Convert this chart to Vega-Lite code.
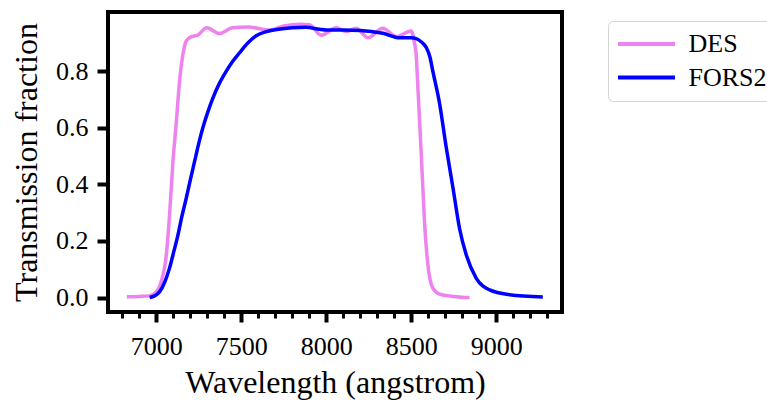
{
  "$schema": "https://vega.github.io/schema/vega-lite/v6.json",
  "width": 454,
  "height": 300,
  "autosize": {"type": "none"},
  "padding": {"left": 108, "top": 12, "right": 205, "bottom": 88},
  "background": "white",
  "config": {
    "font": "Liberation Serif",
    "view": {"stroke": "black", "strokeWidth": 4},
    "axis": {
      "grid": false,
      "domain": false,
      "tickColor": "black",
      "labelColor": "black",
      "titleColor": "black",
      "labelFont": "Liberation Serif",
      "titleFont": "Liberation Serif",
      "labelFontSize": 26,
      "titleFontSize": 32,
      "titleFontWeight": "normal"
    }
  },
  "data": {
    "values": [
      {"filter": "DES", "wavelength": 6827, "transmission": 0.003},
      {"filter": "DES", "wavelength": 6900, "transmission": 0.004},
      {"filter": "DES", "wavelength": 6960, "transmission": 0.006},
      {"filter": "DES", "wavelength": 7000, "transmission": 0.02},
      {"filter": "DES", "wavelength": 7029, "transmission": 0.057},
      {"filter": "DES", "wavelength": 7059, "transmission": 0.15},
      {"filter": "DES", "wavelength": 7078, "transmission": 0.29},
      {"filter": "DES", "wavelength": 7098, "transmission": 0.48},
      {"filter": "DES", "wavelength": 7118, "transmission": 0.62},
      {"filter": "DES", "wavelength": 7137, "transmission": 0.765},
      {"filter": "DES", "wavelength": 7157, "transmission": 0.86},
      {"filter": "DES", "wavelength": 7176, "transmission": 0.906},
      {"filter": "DES", "wavelength": 7200, "transmission": 0.92},
      {"filter": "DES", "wavelength": 7245, "transmission": 0.928},
      {"filter": "DES", "wavelength": 7297, "transmission": 0.953},
      {"filter": "DES", "wavelength": 7372, "transmission": 0.933},
      {"filter": "DES", "wavelength": 7446, "transmission": 0.953},
      {"filter": "DES", "wavelength": 7540, "transmission": 0.956},
      {"filter": "DES", "wavelength": 7666, "transmission": 0.945},
      {"filter": "DES", "wavelength": 7750, "transmission": 0.96},
      {"filter": "DES", "wavelength": 7850, "transmission": 0.966},
      {"filter": "DES", "wavelength": 7902, "transmission": 0.964},
      {"filter": "DES", "wavelength": 7971, "transmission": 0.927},
      {"filter": "DES", "wavelength": 8059, "transmission": 0.953},
      {"filter": "DES", "wavelength": 8118, "transmission": 0.94},
      {"filter": "DES", "wavelength": 8176, "transmission": 0.952},
      {"filter": "DES", "wavelength": 8245, "transmission": 0.918},
      {"filter": "DES", "wavelength": 8333, "transmission": 0.952},
      {"filter": "DES", "wavelength": 8412, "transmission": 0.922},
      {"filter": "DES", "wavelength": 8500, "transmission": 0.942},
      {"filter": "DES", "wavelength": 8519, "transmission": 0.9},
      {"filter": "DES", "wavelength": 8529, "transmission": 0.86},
      {"filter": "DES", "wavelength": 8539, "transmission": 0.745},
      {"filter": "DES", "wavelength": 8559, "transmission": 0.507},
      {"filter": "DES", "wavelength": 8578, "transmission": 0.27},
      {"filter": "DES", "wavelength": 8598, "transmission": 0.116},
      {"filter": "DES", "wavelength": 8627, "transmission": 0.033},
      {"filter": "DES", "wavelength": 8667, "transmission": 0.012},
      {"filter": "DES", "wavelength": 8745, "transmission": 0.004},
      {"filter": "DES", "wavelength": 8843, "transmission": 0.0},
      {"filter": "FORS2", "wavelength": 6961, "transmission": 0.0},
      {"filter": "FORS2", "wavelength": 6990, "transmission": 0.006},
      {"filter": "FORS2", "wavelength": 7019, "transmission": 0.02},
      {"filter": "FORS2", "wavelength": 7050, "transmission": 0.055},
      {"filter": "FORS2", "wavelength": 7078, "transmission": 0.104},
      {"filter": "FORS2", "wavelength": 7100, "transmission": 0.155},
      {"filter": "FORS2", "wavelength": 7127, "transmission": 0.22},
      {"filter": "FORS2", "wavelength": 7150, "transmission": 0.285},
      {"filter": "FORS2", "wavelength": 7176, "transmission": 0.35},
      {"filter": "FORS2", "wavelength": 7200, "transmission": 0.415},
      {"filter": "FORS2", "wavelength": 7225, "transmission": 0.48},
      {"filter": "FORS2", "wavelength": 7250, "transmission": 0.545},
      {"filter": "FORS2", "wavelength": 7274, "transmission": 0.6},
      {"filter": "FORS2", "wavelength": 7300, "transmission": 0.65},
      {"filter": "FORS2", "wavelength": 7333, "transmission": 0.705},
      {"filter": "FORS2", "wavelength": 7370, "transmission": 0.755},
      {"filter": "FORS2", "wavelength": 7412, "transmission": 0.8},
      {"filter": "FORS2", "wavelength": 7450, "transmission": 0.835},
      {"filter": "FORS2", "wavelength": 7490, "transmission": 0.865},
      {"filter": "FORS2", "wavelength": 7540, "transmission": 0.9},
      {"filter": "FORS2", "wavelength": 7588, "transmission": 0.925},
      {"filter": "FORS2", "wavelength": 7650, "transmission": 0.94},
      {"filter": "FORS2", "wavelength": 7720, "transmission": 0.948},
      {"filter": "FORS2", "wavelength": 7800, "transmission": 0.953},
      {"filter": "FORS2", "wavelength": 7880, "transmission": 0.955},
      {"filter": "FORS2", "wavelength": 7960, "transmission": 0.948},
      {"filter": "FORS2", "wavelength": 8000, "transmission": 0.945},
      {"filter": "FORS2", "wavelength": 8100, "transmission": 0.945},
      {"filter": "FORS2", "wavelength": 8200, "transmission": 0.944},
      {"filter": "FORS2", "wavelength": 8333, "transmission": 0.934},
      {"filter": "FORS2", "wavelength": 8431, "transmission": 0.918},
      {"filter": "FORS2", "wavelength": 8500, "transmission": 0.918},
      {"filter": "FORS2", "wavelength": 8529, "transmission": 0.915},
      {"filter": "FORS2", "wavelength": 8560, "transmission": 0.903},
      {"filter": "FORS2", "wavelength": 8588, "transmission": 0.884},
      {"filter": "FORS2", "wavelength": 8610, "transmission": 0.85},
      {"filter": "FORS2", "wavelength": 8627, "transmission": 0.8},
      {"filter": "FORS2", "wavelength": 8667, "transmission": 0.685},
      {"filter": "FORS2", "wavelength": 8706, "transmission": 0.53},
      {"filter": "FORS2", "wavelength": 8745, "transmission": 0.39},
      {"filter": "FORS2", "wavelength": 8784, "transmission": 0.245},
      {"filter": "FORS2", "wavelength": 8824, "transmission": 0.15},
      {"filter": "FORS2", "wavelength": 8882, "transmission": 0.069},
      {"filter": "FORS2", "wavelength": 8961, "transmission": 0.027},
      {"filter": "FORS2", "wavelength": 9078, "transmission": 0.01},
      {"filter": "FORS2", "wavelength": 9274, "transmission": 0.002}
    ]
  },
  "mark": {"type": "line", "strokeWidth": 3.5, "interpolate": "monotone"},
  "encoding": {
    "x": {
      "field": "wavelength",
      "type": "quantitative",
      "scale": {"domain": [6716, 9387], "nice": false, "zero": false},
      "axis": {
        "title": "Wavelength (angstrom)",
        "titleFont": "Liberation Serif",
        "titleFontSize": 32,
        "labelFont": "Liberation Serif",
        "labelFontSize": 26,
        "values": [6800, 6900, 7000, 7100, 7200, 7300, 7400, 7500, 7600, 7700, 7800, 7900, 8000, 8100, 8200, 8300, 8400, 8500, 8600, 8700, 8800, 8900, 9000, 9100, 9200, 9300],
        "format": "d",
        "labelExpr": "datum.value % 500 === 0 ? datum.label : ''",
        "labelOverlap": false,
        "tickSize": {"condition": {"test": "datum.value % 500 === 0", "value": 10}, "value": 6},
        "tickWidth": {"condition": {"test": "datum.value % 500 === 0", "value": 4}, "value": 3},
        "labelPadding": 11,
        "titlePadding": 8
      }
    },
    "y": {
      "field": "transmission",
      "type": "quantitative",
      "scale": {"domain": [-0.051, 1.009], "nice": false, "zero": false},
      "axis": {
        "title": "Transmission fraction",
        "titleFont": "Liberation Serif",
        "titleFontSize": 32,
        "labelFont": "Liberation Serif",
        "labelFontSize": 26,
        "values": [0, 0.2, 0.4, 0.6, 0.8],
        "format": ".1f",
        "tickSize": 11,
        "tickWidth": 4,
        "labelPadding": 9,
        "titlePadding": 12
      }
    },
    "color": {
      "field": "filter",
      "type": "nominal",
      "scale": {"domain": ["DES", "FORS2"], "range": ["violet", "blue"]},
      "legend": {
        "orient": "none",
        "legendX": 500,
        "legendY": 9,
        "title": null,
        "symbolType": "M-4,0H4",
        "symbolSize": 203,
        "symbolStrokeWidth": 4,
        "symbolOffset": 15.5,
        "symbolFillColor": "transparent",
        "labelFont": "Liberation Serif",
        "labelFontSize": 26,
        "labelColor": "black",
        "labelOffset": 29,
        "padding": 10,
        "rowPadding": 7.5,
        "strokeColor": "#d4d4d4",
        "cornerRadius": 5,
        "fillColor": "white"
      }
    }
  }
}
